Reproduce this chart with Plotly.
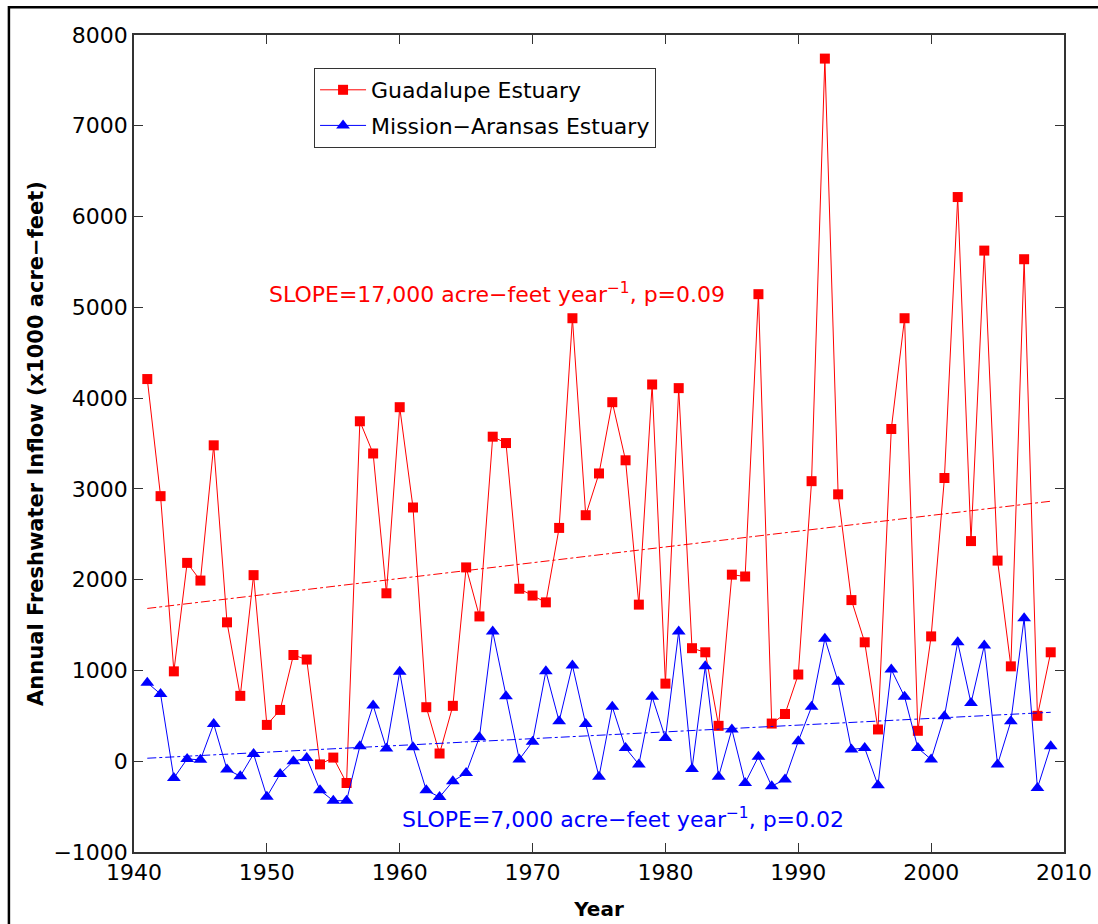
import plotly.graph_objects as go

# data (x1000 acre-feet)
years = [
    1941, 1942, 1943, 1944, 1945, 1946, 1947, 1948, 1949, 1950,
    1951, 1952, 1953, 1954, 1955, 1956, 1957, 1958, 1959, 1960,
    1961, 1962, 1963, 1964, 1965, 1966, 1967, 1968, 1969, 1970,
    1971, 1972, 1973, 1974, 1975, 1976, 1977, 1978, 1979, 1980,
    1981, 1982, 1983, 1984, 1985, 1986, 1987, 1988, 1989, 1990,
    1991, 1992, 1993, 1994, 1995, 1996, 1997, 1998, 1999, 2000,
    2001, 2002, 2003, 2004, 2005, 2006, 2007, 2008, 2009,
]

guadalupe = [
    4210, 2920, 990, 2185, 1990, 3480, 1530, 720, 2050, 400,
    565, 1170, 1120, -35, 40, -240, 3745, 3390, 1850, 3900,
    2795, 595, 85, 610, 2135, 1595, 3575, 3505, 1900, 1825,
    1750, 2570, 4880, 2710, 3170, 3955, 3315, 1725, 4150, 855,
    4110, 1245, 1200, 390, 2055, 2035, 5145, 415, 520, 955,
    3085, 7740, 2940, 1775, 1310, 350, 3660, 4880, 335, 1375,
    3120, 6215, 2425, 5625, 2210, 1045, 5530, 500, 1200,
]

mission_aransas = [
    865, 740, -185, 25, 15, 410, -90, -165, 80, -390,
    -140, 0, 35, -320, -435, -435, 165, 615, 140, 985,
    155, -320, -395, -220, -130, 265, 1430, 715, 20, 215,
    990, 440, 1055, 410, -170, 600, 145, -35, 710, 255,
    1430, -85, 1045, -170, 350, -240, 50, -275, -200, 220,
    600, 1350, 875, 130, 145, -265, 1010, 710, 145, 20,
    495, 1310, 640, 1275, -35, 440, 1575, -295, 165,
]

# trend line end points
trend_years = [1941, 2009]
guadalupe_trend = [1683, 2864]
mission_trend = [33, 539]

FONT = "DejaVu Sans"
RED = "#FF0000"
BLUE = "#0000FF"

fig = go.Figure()

fig.add_trace(go.Scatter(
    x=years, y=guadalupe,
    name="Guadalupe Estuary",
    mode="lines+markers",
    line=dict(color=RED, width=1),
    marker=dict(symbol="square", size=10, color=RED),
    legendgroup="g",
))

fig.add_trace(go.Scatter(
    x=years, y=mission_aransas,
    name="Mission\u2212Aransas Estuary",
    mode="lines+markers",
    line=dict(color=BLUE, width=1),
    marker=dict(symbol="triangle-up", size=12, color=BLUE),
    legendgroup="m",
))

fig.add_trace(go.Scatter(
    x=trend_years, y=guadalupe_trend,
    mode="lines", showlegend=False,
    line=dict(color=RED, width=1, dash="dashdot"),
))

fig.add_trace(go.Scatter(
    x=trend_years, y=mission_trend,
    mode="lines", showlegend=False,
    line=dict(color=BLUE, width=1, dash="dashdot"),
))

# slope labels
fig.add_annotation(
    x=1950, y=5160, xref="x", yref="y",
    text="SLOPE=17,000 acre\u2212feet year<sup>\u22121</sup>, p=0.09",
    showarrow=False, xanchor="left", yanchor="middle",
    font=dict(family=FONT, size=22, color=RED),
)
fig.add_annotation(
    x=1960, y=-620, xref="x", yref="y",
    text="SLOPE=7,000 acre\u2212feet year<sup>\u22121</sup>, p=0.02",
    showarrow=False, xanchor="left", yanchor="middle",
    font=dict(family=FONT, size=22, color=BLUE),
)

# outer frame around the whole figure
fig.add_shape(
    type="rect", xref="paper", yref="paper",
    x0=-0.1345, x1=1.2, y0=-0.3, y1=1.034,
    line=dict(color="black", width=2.5),
    layer="below",
)

axis_common = dict(
    showline=True, linecolor="#333333", linewidth=1.5,
    mirror="allticks", ticks="inside", ticklen=9, tickcolor="#333333",
    showgrid=False, zeroline=False, automargin=False,
    tickfont=dict(family=FONT, size=22, color="black"),
)

fig.update_layout(
    template="none",
    width=1098, height=924,
    margin=dict(l=134, r=34, t=35, b=72, pad=0),
    paper_bgcolor="white", plot_bgcolor="white",
    font=dict(family=FONT, color="black"),
    xaxis=dict(
        range=[1940, 2010], dtick=10, tick0=1940,
        title=dict(text="<b>Year</b>", font=dict(family=FONT, size=20), standoff=18),
        **axis_common,
    ),
    yaxis=dict(
        range=[-1000, 8000], dtick=1000, tick0=0,
        title=dict(text="<b>Annual Freshwater Inflow (x1000 acre\u2212feet)</b>",
                   font=dict(family=FONT, size=21), standoff=4),
        **axis_common,
    ),
    legend=dict(
        x=0.1936, y=0.9596, xanchor="left", yanchor="top",
        bgcolor="white", bordercolor="#333333", borderwidth=1,
        font=dict(family=FONT, size=22, color="black"),
        tracegroupgap=4, itemwidth=46,
    ),
    showlegend=True,
)

fig.write_html("out.html", config={"displayModeBar": False},
               post_script="document.body.style.margin='0';")
